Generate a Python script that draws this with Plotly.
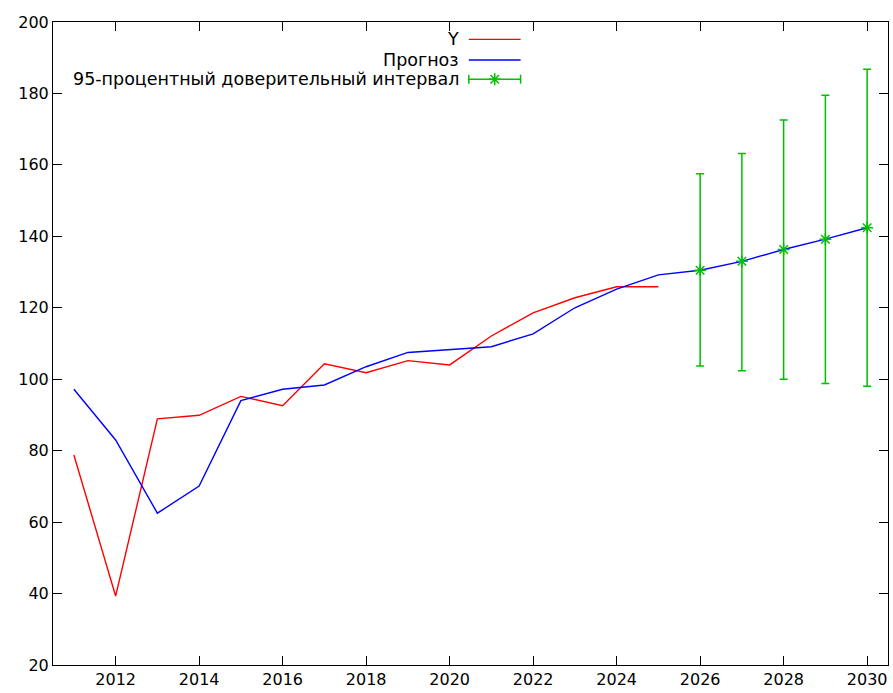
import plotly.graph_objects as go

years_obs = list(range(2011, 2026))
y_actual = [78.8, 39.3, 88.9, 89.9, 95.2, 92.6, 104.3, 101.8, 105.2, 104.0, 112.1, 118.6, 122.8, 125.9, 125.9]

years_fit = list(range(2011, 2031))
y_forecast = [97.2, 83.0, 62.5, 70.1, 94.0, 97.2, 98.4, 103.5, 107.5, 108.3, 109.1, 112.7, 120.0, 125.2, 129.2,
              130.5, 133.0, 136.3, 139.2, 142.4]

years_ci = [2026, 2027, 2028, 2029, 2030]
ci_center = [130.5, 133.0, 136.3, 139.2, 142.4]
ci_upper = [157.5, 163.2, 172.6, 179.5, 186.8]
ci_lower = [103.7, 102.4, 100.0, 98.8, 98.0]

legend_labels = ["Y", "Прогноз", "95-процентный доверительный интервал"]

RED = "#ff0000"
BLUE = "#0000ff"
GREEN = "#00c000"
FONT = "DejaVu Sans, Liberation Sans, Arial, sans-serif"

fig = go.Figure()

fig.add_trace(go.Scatter(x=years_obs, y=y_actual, mode="lines", name=legend_labels[0],
                         line=dict(color=RED, width=1.4)))
fig.add_trace(go.Scatter(x=years_fit, y=y_forecast, mode="lines", name=legend_labels[1],
                         line=dict(color=BLUE, width=1.4)))
fig.add_trace(go.Scatter(
    x=years_ci, y=ci_center, mode="markers", name=legend_labels[2],
    marker=dict(symbol="asterisk-open", size=10, color=GREEN, line=dict(color=GREEN, width=1.5)),
    error_y=dict(type="data", symmetric=False,
                 array=[u - c for u, c in zip(ci_upper, ci_center)],
                 arrayminus=[c - l for c, l in zip(ci_center, ci_lower)],
                 color=GREEN, thickness=1.5, width=4),
))

# Legend (gnuplot style: text right-aligned, sample on the right)
rows_y = [0.973, 0.941, 0.911]
text_x = 0.489
s0, s1 = 0.498, 0.560
for lab, ry in zip(legend_labels, rows_y):
    fig.add_annotation(x=text_x, y=ry, xref="paper", yref="paper", text=lab, showarrow=False,
                       xanchor="right", yanchor="middle", font=dict(family=FONT, size=17.5, color="black"))
fig.add_shape(type="line", xref="paper", yref="paper", x0=s0, x1=s1, y0=rows_y[0], y1=rows_y[0],
              line=dict(color=RED, width=1.4))
fig.add_shape(type="line", xref="paper", yref="paper", x0=s0, x1=s1, y0=rows_y[1], y1=rows_y[1],
              line=dict(color=BLUE, width=1.4))
fig.add_shape(type="line", xref="paper", yref="paper", x0=s0, x1=s1, y0=rows_y[2], y1=rows_y[2],
              line=dict(color=GREEN, width=1.5))
for xx in (s0, s1):
    fig.add_shape(type="line", xref="paper", yref="paper", x0=xx, x1=xx, y0=rows_y[2] - 0.007,
                  y1=rows_y[2] + 0.007, line=dict(color=GREEN, width=1.5))
fig.add_trace(go.Scatter(x=[(s0 + s1) / 2], y=[rows_y[2]], xaxis="x2", yaxis="y2", mode="markers",
                         showlegend=False, hoverinfo="skip",
                         marker=dict(symbol="asterisk-open", size=10, color=GREEN,
                                     line=dict(color=GREEN, width=1.5))))

axis_common = dict(showgrid=False, zeroline=False, showline=True, linecolor="black", linewidth=1,
                   mirror="ticks", ticks="inside", ticklen=9, tickcolor="black", tickwidth=1,
                   tickfont=dict(family=FONT, size=16, color="black"))

fig.update_layout(
    width=893, height=693,
    margin=dict(l=53, r=5, t=22, b=28),
    plot_bgcolor="white", paper_bgcolor="white",
    showlegend=False,
    xaxis=dict(range=[2010.5, 2030.5], tickvals=list(range(2012, 2031, 2)), **axis_common),
    yaxis=dict(range=[20, 200], tickvals=list(range(20, 201, 20)), **axis_common),
    xaxis2=dict(overlaying="x", range=[0, 1], visible=False, fixedrange=True),
    yaxis2=dict(overlaying="y", range=[0, 1], visible=False, fixedrange=True),
)

fig.write_html("out.html", config={"displayModeBar": False},
               post_script="document.body.style.margin='0';document.body.style.overflow='hidden';")
